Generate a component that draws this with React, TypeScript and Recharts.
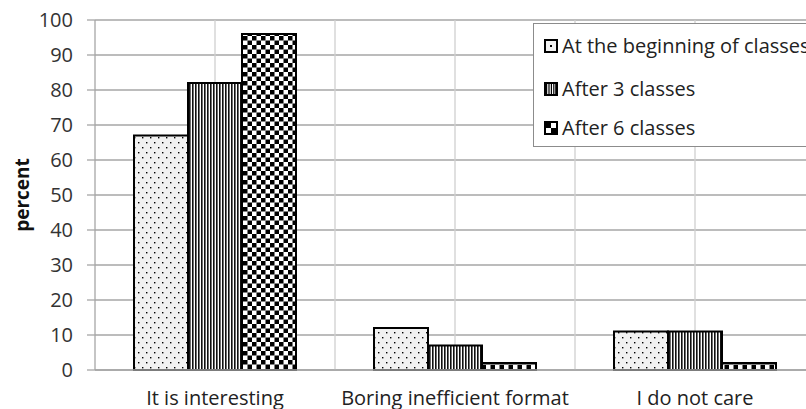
import React from 'react';
import { BarChart, Bar, XAxis, YAxis, CartesianGrid, Legend } from 'recharts';

const categories = ['It is interesting', 'Boring inefficient format', 'I do not care'];
const beginning = [67, 12, 11];
const after3 = [82, 7, 11];
const after6 = [96, 2, 2];
const yTicks = [0, 10, 20, 30, 40, 50, 60, 70, 80, 90, 100];
const seriesNames = ['At the beginning of classes', 'After 3 classes', 'After 6 classes'];

const data = categories.map((c, i) => ({
  name: c,
  s0: beginning[i],
  s1: after3[i],
  s2: after6[i],
}));

const FONT = '"Open Sans", sans-serif';

const Patterns = () => (
  <defs>
    <pattern id="pDots" width="8" height="10" patternUnits="userSpaceOnUse">
      <rect width="8" height="10" fill="#f1f1f1" />
      <rect x="2" y="2" width="1.4" height="1.4" fill="#000" />
      <rect x="6" y="7" width="1.4" height="1.4" fill="#000" />
    </pattern>
    <pattern id="pStripes" width="3" height="10" patternUnits="userSpaceOnUse">
      <rect width="3" height="10" fill="#fff" />
      <rect x="0" y="0" width="1.6" height="10" fill="#111" />
    </pattern>
    <pattern id="pCheck" width="9" height="9" patternUnits="userSpaceOnUse">
      <rect width="9" height="9" fill="#fff" />
      <rect x="0" y="0" width="4.5" height="4.5" fill="#000" />
      <rect x="4.5" y="4.5" width="4.5" height="4.5" fill="#000" />
    </pattern>
  </defs>
);

const LegendIcon = ({ idx }: { idx: number }) => (
  <svg width="16" height="16" style={{ display: 'block' }}>
    <rect x="1" y="1" width="14" height="14" fill="#000" />
    {idx === 0 && (
      <>
        <rect x="3" y="3" width="10" height="10" fill="#f1f1f1" />
        <rect x="7" y="7" width="2" height="2" fill="#000" />
      </>
    )}
    {idx === 1 && (
      <>
        <rect x="3" y="3" width="10" height="10" fill="#fff" />
        <rect x="3" y="3" width="1.2" height="10" fill="#000" />
        <rect x="5.4" y="3" width="1.2" height="10" fill="#000" />
        <rect x="7.8" y="3" width="1.2" height="10" fill="#000" />
        <rect x="10.2" y="3" width="1.2" height="10" fill="#000" />
        <rect x="12.2" y="3" width="0.8" height="10" fill="#000" />
      </>
    )}
    {idx === 2 && (
      <>
        <rect x="3" y="3" width="10" height="10" fill="#fff" />
        <rect x="3" y="3" width="5" height="5" fill="#000" />
        <rect x="8" y="8" width="5" height="5" fill="#000" />
      </>
    )}
  </svg>
);

const rowTops = [10, 53, 92];

const LegendBox = () => (
  <div
    style={{
      position: 'relative',
      width: 300,
      height: 124,
      border: '1.5px solid #8c8c8c',
      background: '#fff',
      boxSizing: 'border-box',
      fontFamily: FONT,
      fontSize: 20,
      color: '#222',
    }}
  >
    {seriesNames.map((n, i) => (
      <div
        key={n}
        style={{
          position: 'absolute',
          left: 9,
          top: rowTops[i],
          display: 'flex',
          alignItems: 'center',
          whiteSpace: 'nowrap',
          height: 24,
        }}
      >
        <LegendIcon idx={i} />
        <span style={{ marginLeft: 3, lineHeight: '24px' }}>{n}</span>
      </div>
    ))}
  </div>
);

export default function App() {
  return (
    <div
      style={{
        position: 'fixed',
        left: 0,
        top: 0,
        width: 806,
        height: 409,
        overflow: 'hidden',
        background: '#fff',
      }}
    >
      <BarChart
        width={830}
        height={409}
        data={data}
        margin={{ top: 20, right: 15, left: 0, bottom: 0 }}
        barCategoryGap={39}
        barGap={0}
      >
        <Patterns />
        <CartesianGrid
          horizontal={true}
          vertical={false}
          stroke="#a6a6a6"
          strokeWidth={1.3}
        />
        <CartesianGrid
          horizontal={false}
          vertical={true}
          stroke="#d0d0d0"
          strokeWidth={1.3}
          verticalCoordinatesGenerator={({ offset }: any) =>
            [1, 2, 3, 4, 5].map((k) => offset.left + (offset.width * k) / 6)
          }
        />
        <XAxis
          dataKey="name"
          height={39}
          tickLine={false}
          tickSize={0}
          tickMargin={21}
          axisLine={{ stroke: '#a6a6a6', strokeWidth: 1.3 }}
          tick={{ fontFamily: FONT, fontSize: 20, fill: '#222' }}
          interval={0}
        />
        <YAxis
          width={95}
          domain={[0, 100]}
          ticks={yTicks}
          interval={0}
          tickSize={8}
          tickMargin={14}
          tickLine={{ stroke: '#a6a6a6', strokeWidth: 1.3 }}
          axisLine={{ stroke: '#a6a6a6', strokeWidth: 1.3 }}
          tick={{ fontFamily: FONT, fontSize: 20, fill: '#333' }}
          label={{
            value: 'percent',
            angle: -90,
            position: 'center',
            dx: -25,
            style: { fontFamily: FONT, fontSize: 19, fontWeight: 700, fill: '#111' },
          }}
        />
        <Legend
          layout="vertical"
          align="center"
          verticalAlign="middle"
          wrapperStyle={{ position: 'absolute', left: 533, top: 23, width: 300, height: 124 }}
          content={() => <LegendBox />}
        />
        <Bar dataKey="s0" name={seriesNames[0]} fill="url(#pDots)" stroke="#000" strokeWidth={2} isAnimationActive={false} />
        <Bar dataKey="s1" name={seriesNames[1]} fill="url(#pStripes)" stroke="#000" strokeWidth={2} isAnimationActive={false} />
        <Bar dataKey="s2" name={seriesNames[2]} fill="url(#pCheck)" stroke="#000" strokeWidth={2} isAnimationActive={false} />
      </BarChart>
    </div>
  );
}
